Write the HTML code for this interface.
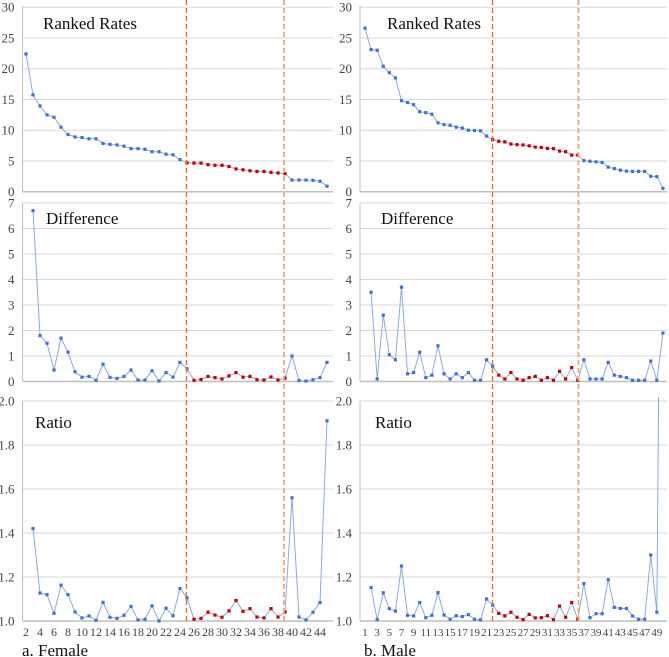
<!DOCTYPE html>
<html><head><meta charset="utf-8"><style>
html,body{margin:0;padding:0;background:#fff;}
svg{display:block;}
svg text{font-family:"Liberation Serif","DejaVu Serif","Noto Serif CJK SC",serif;}
</style></head><body>
<svg id="c" width="669" height="657" viewBox="0 0 669 657"></svg>
<script>
const femaleRanked=[22.4,15.75,13.95,12.5,12.1,10.5,9.3,8.9,8.8,8.6,8.6,7.85,7.7,7.6,7.4,7.0,7.0,6.9,6.5,6.5,6.1,6.0,5.2,4.68,4.65,4.65,4.4,4.3,4.3,4.1,3.7,3.55,3.4,3.3,3.3,3.15,3.05,2.95,1.9,1.9,1.9,1.85,1.7,0.9];
const femaleDiff=[6.7,1.8,1.5,0.45,1.7,1.15,0.38,0.17,0.2,0.05,0.68,0.16,0.12,0.2,0.45,0.06,0.06,0.42,0.02,0.35,0.17,0.75,0.5,0.05,0.08,0.2,0.15,0.1,0.22,0.35,0.17,0.2,0.07,0.06,0.18,0.06,0.13,1.0,0.04,0.02,0.07,0.15,0.75];
const femaleRatio=[1.42,1.127,1.12,1.035,1.163,1.12,1.041,1.014,1.023,1.003,1.085,1.017,1.012,1.026,1.066,1.005,1.008,1.069,1.0,1.058,1.024,1.148,1.105,1.008,1.012,1.04,1.027,1.017,1.046,1.093,1.044,1.056,1.018,1.014,1.056,1.018,1.041,1.56,1.018,1.005,1.04,1.084,1.91];
const maleRanked=[26.6,23.1,23.0,20.4,19.35,18.5,14.8,14.5,14.15,13.0,12.85,12.6,11.2,10.9,10.8,10.5,10.35,10.0,9.95,9.9,9.05,8.45,8.2,8.1,7.75,7.65,7.6,7.45,7.25,7.2,7.05,7.0,6.6,6.5,5.95,5.95,5.05,4.95,4.85,4.75,4.0,3.75,3.5,3.35,3.3,3.3,3.3,2.5,2.45,0.55];
const maleDiff=[3.5,0.1,2.6,1.05,0.85,3.7,0.3,0.35,1.15,0.15,0.25,1.4,0.3,0.1,0.3,0.15,0.35,0.05,0.05,0.85,0.6,0.25,0.1,0.35,0.1,0.05,0.15,0.2,0.05,0.15,0.05,0.4,0.1,0.55,0.05,0.85,0.1,0.1,0.1,0.75,0.25,0.2,0.15,0.05,0.05,0.05,0.8,0.05,1.9];
const maleRatio=[1.152,1.006,1.128,1.056,1.045,1.25,1.026,1.023,1.084,1.015,1.026,1.129,1.027,1.008,1.024,1.02,1.029,1.008,1.005,1.10,1.072,1.035,1.023,1.04,1.017,1.006,1.03,1.014,1.015,1.024,1.006,1.068,1.017,1.084,1.008,1.17,1.015,1.033,1.033,1.188,1.062,1.057,1.057,1.023,1.008,1.008,1.3,1.04,4.45];
const rankedTicks=[0,5,10,15,20,25,30];
const diffTicks=[0,1,2,3,4,5,6,7];
const ratioTicks=[1.0,1.2,1.4,1.6,1.8,2.0];
const femaleXLabels=[2,4,6,8,10,12,14,16,18,20,22,24,26,28,30,32,34,36,38,40,42,44];
const maleXLabels=[1,3,5,7,9,11,13,15,17,19,21,23,25,27,29,31,33,35,37,39,41,43,45,47,49];
const femaleRed=[23,37];
const maleRed=[21,35];

const svg=document.getElementById('c');
const NS='http://www.w3.org/2000/svg';
function mk(tag,attrs,parent){const e=document.createElementNS(NS,tag);for(const k in attrs)e.setAttribute(k,attrs[k]);(parent||svg).appendChild(e);return e;}

const rows=[
 {name:'ranked',title:'Ranked Rates',ticks:rankedTicks,fmt:v=>String(v),y:v=>191.7-6.15*v,yTop:6,yBot:191.7,min:0,max:30},
 {name:'difference',title:'Difference',ticks:diffTicks,fmt:v=>String(v),y:v=>381.5-25.5*v,yTop:203,yBot:381.5,min:0,max:7},
 {name:'ratio',title:'Ratio',ticks:ratioTicks,fmt:v=>v.toFixed(1),y:v=>621-220*(v-1),yTop:401,yBot:621,min:1,max:2}
];
const panels=[
 {name:'female',left:22.5,right:333,x:i=>26+7*i,data:[femaleRanked,femaleDiff,femaleRatio],red:femaleRed,labels:femaleXLabels,catOff:2,lblSize:12,caption:'a. Female',capX:22,titleX:[43,46,35],dash:[186.5,284]},
 {name:'male',left:360,right:667,x:i=>365+6.08*i,data:[maleRanked,maleDiff,maleRatio],red:maleRed,labels:maleXLabels,catOff:1,lblSize:11,caption:'b. Male',capX:364,titleX:[387,381,375],dash:[492.5,578.5]}
];

panels.forEach(p=>{
 const g=mk('g',{});
 
 
 rows.forEach((r,ri)=>{
  const rg=mk('g',{},g);
  
  
  r.ticks.forEach(t=>{
   const yy=r.y(t);
   if(t!==r.min){const gl=mk('line',{x1:p.left,x2:p.right,y1:yy,y2:yy,stroke:'#d9d9d9','stroke-width':1},rg);
    }
   const tl=mk('text',{x:p.left-8,y:yy+4.5,'text-anchor':'end','font-size':13,fill:'#444'},rg);
   tl.textContent=r.fmt(t);
   
   
  });
  const ax=mk('line',{x1:p.left,x2:p.left,y1:r.yTop,y2:r.yBot,stroke:'#bfbfbf','stroke-width':1},rg);
  
  const bx=mk('line',{x1:p.left,x2:p.right,y1:r.yBot,y2:r.yBot,stroke:'#bfbfbf','stroke-width':1.5},rg);
  
  const tt=mk('text',{x:p.titleX[ri],y:r.name==='ranked'?29:(r.name==='difference'?224:428),'font-size':17,fill:'#111'},rg);
  tt.textContent=r.title;
  
  
  const vals=p.data[ri];
  const off=ri===0?0:1;
  const cp='cp-'+p.name+'-'+r.name;
  const clip=mk('clipPath',{id:cp},rg);
  mk('rect',{x:p.left,y:r.yTop-4,width:p.right-p.left+5,height:r.yBot-r.yTop+8},clip);
  let d='';
  vals.forEach((v,k)=>{const i=k+off;d+=(k?'L':'M')+p.x(i).toFixed(2)+' '+r.y(v).toFixed(2);});
  const ln=mk('path',{d:d,fill:'none',stroke:'#8eaadb','stroke-width':1,'clip-path':'url(#'+cp+')'},rg);
  
  
  vals.forEach((v,k)=>{
   const i=k+off;
   if(v>r.max+0.01)return;
   const isRed = ri===0 ? (i>=p.red[0]&&i<=p.red[1]) : (i>p.red[0]&&i<=p.red[1]);
   const pt=mk('rect',{x:p.x(i)-1.6,y:r.y(v)-1.6,width:3.2,height:3.2,fill:isRed?'#c00000':'#4472c4'},rg);
   
   
  });
 });
 p.labels.forEach(c=>{
  const i=c-p.catOff;
  const tl=mk('text',{x:p.x(i),y:636,'text-anchor':'middle','font-size':p.lblSize,fill:'#444'},g);
  tl.textContent=String(c);
  
  
 });
 const cap=mk('text',{x:p.capX,y:656,'font-size':17,fill:'#111'},g);
 cap.textContent=p.caption;
 
 
 const d1=mk('line',{x1:p.dash[0],x2:p.dash[0],y1:0,y2:624,stroke:'#e8702a','stroke-width':1.4,'stroke-dasharray':'5,3'},g);
 
 
 const d2=mk('line',{x1:p.dash[1],x2:p.dash[1],y1:0,y2:624,stroke:'#f2a679','stroke-width':1.8,'stroke-dasharray':'5,3'},g);
 
 
});
</script>
</body></html>
